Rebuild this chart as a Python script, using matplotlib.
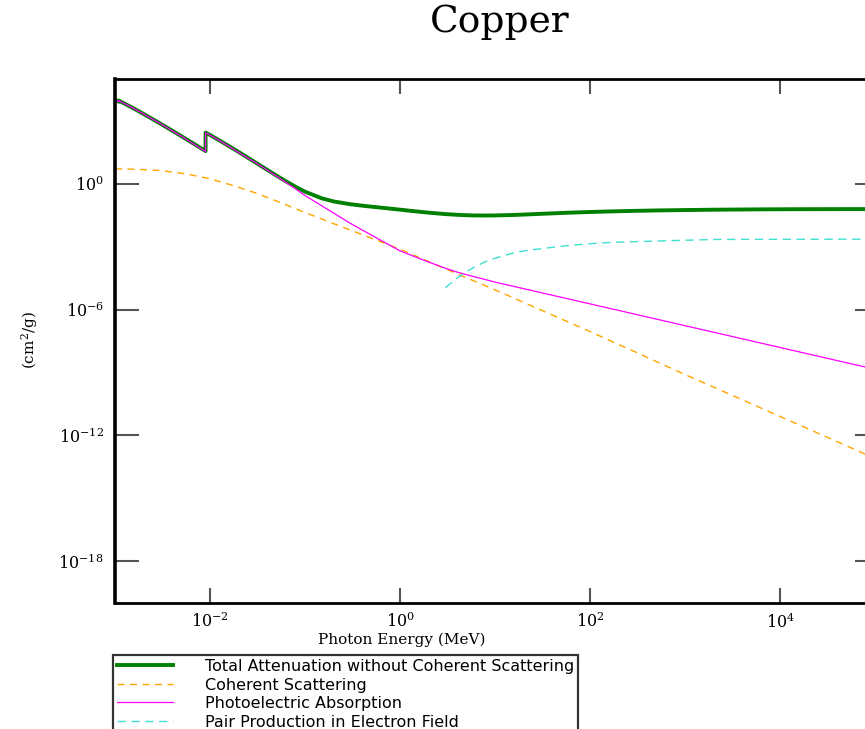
import matplotlib
matplotlib.use("Agg")
import matplotlib.pyplot as plt

# photon energies (MeV), duplicated at the L1 and K absorption edges
energy = [1.0e-3, 1.0961e-3, 1.0961e-3, 1.5e-3, 2.0e-3, 3.0e-3, 4.0e-3, 5.0e-3, 6.0e-3, 8.0e-3,
          8.979e-3, 8.979e-3, 1.0e-2, 1.5e-2, 2.0e-2, 3.0e-2, 4.0e-2, 5.0e-2, 6.0e-2, 8.0e-2,
          0.1, 0.15, 0.2, 0.3, 0.4, 0.5, 0.6, 0.8, 1.0, 1.25,
          1.5, 2.0, 3.0, 4.0, 5.0, 6.0, 8.0, 10, 15, 20,
          30, 40, 50, 60, 80, 100, 150, 200, 300, 500,
          1e3, 2e3, 5e3, 1e4, 2e4, 5e4, 1e5]

total_no_coh = [10565, 8237, 9342, 4413, 2149, 744.4, 343.5, 186.7, 112.9, 50.45,
                36.4, 276.5, 214.2, 72.95, 33.0, 10.51, 4.65, 2.474, 1.495, 0.706,
                0.420, 0.203, 0.144, 0.106, 0.0904, 0.0811, 0.0745, 0.0650, 0.0584, 0.0522,
                0.0479, 0.0420, 0.0359, 0.0331, 0.0317, 0.0310, 0.0307, 0.0310, 0.0324, 0.0340,
                0.0368, 0.0389, 0.0405, 0.0418, 0.0437, 0.0451, 0.0476, 0.0492, 0.0512, 0.0535,
                0.0560, 0.0580, 0.0600, 0.0610, 0.0616, 0.0620, 0.0622]

coherent = [5.2, 5.15, 5.15, 4.99, 4.75, 4.28, 3.65, 3.18, 2.78, 2.13,
            1.92, 1.92, 1.74, 1.02, 0.679, 0.367, 0.224, 0.151, 0.109, 0.0643,
            0.0427, 0.0209, 0.0126, 6.17e-3, 3.74e-3, 2.54e-3, 1.85e-3, 1.12e-3, 7.6e-4, 4.9e-4,
            3.43e-4, 1.95e-4, 8.8e-5, 5.06e-5, 3.3e-5, 2.32e-5, 1.34e-5, 8.7e-6, 3.89e-6, 2.19e-6,
            9.8e-7, 5.52e-7, 3.54e-7, 2.47e-7, 1.39e-7, 8.9e-8, 3.88e-8, 2.15e-8, 9.4e-9, 3.29e-9,
            7.9e-10, 1.99e-10, 3.18e-11, 7.9e-12, 1.99e-12, 3.18e-13, 7.9e-14]

photo = [10560, 8232, 9337, 4408, 2145, 741, 340.5, 184, 110.3, 48.2,
         34.3, 274.4, 212.2, 71.1, 31.3, 10.39, 4.51, 2.33, 1.35, 0.562,
         0.275, 0.0893, 0.0401, 0.0130, 6.24e-3, 3.57e-3, 2.26e-3, 1.10e-3, 6.3e-4, 4.22e-4,
         3.04e-4, 1.85e-4, 9.4e-5, 6.1e-5, 4.63e-5, 3.73e-5, 2.66e-5, 2.04e-5, 1.34e-5, 9.95e-6,
         6.53e-6, 4.84e-6, 3.84e-6, 3.18e-6, 2.35e-6, 1.87e-6, 1.22e-6, 9.1e-7, 5.96e-7, 3.5e-7,
         1.70e-7, 8.28e-8, 3.19e-8, 1.55e-8, 7.55e-9, 2.91e-9, 1.42e-9]

# pair production in electron field starts above threshold
pair_energy = [3, 4, 5, 6, 8, 10, 15, 20, 30, 40, 50, 60, 80, 100, 150, 200, 300, 500,
               1e3, 2e3, 5e3, 1e4, 2e4, 5e4, 1e5]
pair_electron = [1.1e-5, 3.2e-5, 6.3e-5, 1.05e-4, 1.95e-4, 2.8e-4, 4.8e-4, 6.3e-4, 7.9e-4, 9.3e-4,
                 1.04e-3, 1.14e-3, 1.27e-3, 1.38e-3, 1.56e-3, 1.65e-3, 1.74e-3, 1.86e-3,
                 2.03e-3, 2.2e-3, 2.24e-3, 2.25e-3, 2.26e-3, 2.28e-3, 2.29e-3]

xticks = [1e-2, 1e0, 1e2, 1e4]
xtick_labels = ['$10^{-2}$', '$10^{0}$', '$10^{2}$', '$10^{4}$']
yticks = [1e-18, 1e-12, 1e-6, 1e0]
ytick_labels = ['$10^{-18}$', '$10^{-12}$', '$10^{-6}$', '$10^{0}$']

plt.rcParams['mathtext.fontset'] = 'dejavuserif'
plt.rcParams['font.family'] = ['DejaVu Serif']

fig = plt.figure(figsize=(8.65, 7.29), dpi=100)
# right spine sits just past the image edge, as in the original crop
ax = fig.add_axes([115 / 865, 1 - 603 / 729, (879 - 115) / 865, (603 - 79) / 729])

ax.plot(energy, total_no_coh, color='#008000', lw=2.8,
        label='Total Attenuation without Coherent Scattering')
ax.plot(energy, coherent, color='#FFA500', lw=1.0, dashes=(5, 4),
        label='Coherent Scattering')
ax.plot(energy, photo, color='#FF00FF', lw=0.9,
        label='Photoelectric Absorption')
ax.plot(pair_energy, pair_electron, color='#40E0D0', lw=1.0, dashes=(6, 4),
        label='Pair Production in Electron Field')

ax.set_xscale('log')
ax.set_yscale('log')
ax.set_xlim(1e-3, 1.1e5)
ax.set_ylim(1e-20, 1e5)
ax.minorticks_off()
ax.set_xticks(xticks)
ax.set_xticklabels(xtick_labels)
ax.set_yticks(yticks)
ax.set_yticklabels(ytick_labels)

for sp in ax.spines.values():
    sp.set_linewidth(2.0)
ax.spines['left'].set_linewidth(2.6)
ax.tick_params(axis='x', which='major', direction='in', top=True, length=11, width=1.5,
               color='#555555', labelsize=11.5, pad=7)
ax.tick_params(axis='y', which='major', direction='in', right=True, length=17, width=1.5,
               color='#555555', labelsize=11.5, pad=8)

ax.set_xlabel('Photon Energy (MeV)', fontsize=11)
ax.xaxis.set_label_coords((402 - 115) / (879 - 115), -0.056)

fig.text(30 / 865, 1 - 340 / 729, '(cm$^2$/g)', rotation=90, ha='center', va='center',
         fontsize=11)
fig.text(500 / 865, 1 - 22 / 729, 'Copper', ha='center', va='center', fontsize=27)

leg = fig.legend(loc='upper left', bbox_to_anchor=(113 / 865, 1 - 655 / 729),
                 prop={'family': 'DejaVu Sans', 'size': 11.5}, frameon=True, fancybox=False,
                 borderpad=0.25, labelspacing=0.22, handlelength=3.5, handletextpad=2.0,
                 borderaxespad=0)
leg.get_frame().set_edgecolor('black')
leg.get_frame().set_linewidth(1.6)

fig.savefig('out.png', dpi=100)
